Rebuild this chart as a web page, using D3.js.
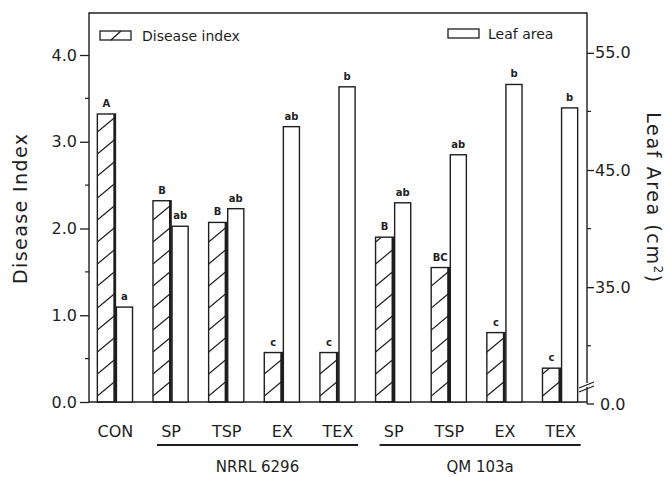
<!DOCTYPE html>
<html>
<head>
<meta charset="utf-8">
<script src="https://d3js.org/d3.v7.min.js"></script>
<style>
  body { margin: 0; background: #fff; }
  text { font-family: "DejaVu Sans", sans-serif; fill: #1e1e1e; }
</style>
</head>
<body>
<script>
// values
var categories = ["CON", "SP", "TSP", "EX", "TEX", "SP", "TSP", "EX", "TEX"];
var diseaseIndex = [3.32, 2.32, 2.07, 0.57, 0.57, 1.90, 1.55, 0.80, 0.39];
var leafArea = [33.3, 40.2, 41.7, 48.7, 52.1, 42.2, 46.3, 52.3, 50.3];
var diseaseLetters = ["A", "B", "B", "c", "c", "B", "BC", "c", "c"];
var leafLetters = ["a", "ab", "ab", "ab", "b", "ab", "ab", "b", "b"];
var groupNames = ["NRRL 6296", "QM 103a"];
var groupFirst = [1, 5];
var groupLast = [4, 8];
var leftTicks = [0, 1, 2, 3, 4];
var leftMinor = [0.5, 1.5, 2.5, 3.5];
var rightTicks = [35, 45, 55];
var rightMinor = [30, 40, 50];

var W = 670, H = 477;
var pL = 89, pR = 587, pT = 13, pB = 402;

var svg = d3.select("body").append("svg")
  .attr("width", W)
  .attr("height", H);

var x = d3.scaleBand()
  .domain(d3.range(categories.length))
  .range([pL, pR])
  .paddingInner(0.35)
  .paddingOuter(0.15);

var xs = d3.scaleBand()
  .domain(["d", "l"])
  .range([0, x.bandwidth()]);

var yL = d3.scaleLinear().domain([0, 4]).range([pB, 55]);
var yR = d3.scaleLinear().domain([25.2, 58.4]).range([pB, pT]);

var ink = "#1e1e1e";

// frame
svg.append("path")
  .attr("d", "M" + pL + "," + pB + "V" + pT + "H" + pR + "V" + (pB + 2))
  .attr("fill", "none").attr("stroke", ink).attr("stroke-width", 1.4);
svg.append("line")
  .attr("x1", pL).attr("x2", pR).attr("y1", pB).attr("y2", pB)
  .attr("stroke", ink).attr("stroke-width", 1.4);

// left axis
var axL = svg.append("g").attr("transform", "translate(" + pL + ",0)")
  .call(d3.axisLeft(yL).tickValues(leftTicks).tickFormat(d3.format(".1f")).tickSize(9).tickPadding(3));
axL.select(".domain").remove();
axL.selectAll("line").attr("stroke", ink).attr("stroke-width", 1.3);
axL.selectAll("text").attr("font-size", 16).attr("font-family", "DejaVu Sans").attr("fill", ink);
svg.append("g").selectAll("line").data(leftMinor).join("line")
  .attr("x1", pL - 4).attr("x2", pL)
  .attr("y1", function(d) { return yL(d); }).attr("y2", function(d) { return yL(d); })
  .attr("stroke", ink).attr("stroke-width", 1.2);

// right axis
var axR = svg.append("g").attr("transform", "translate(" + pR + ",0)")
  .call(d3.axisRight(yR).tickValues(rightTicks).tickFormat(d3.format(".1f")).tickSize(7).tickPadding(1));
axR.select(".domain").remove();
axR.selectAll("line").attr("stroke", ink).attr("stroke-width", 1.3);
axR.selectAll("text").attr("font-size", 16).attr("font-family", "DejaVu Sans").attr("fill", ink);
svg.append("g").selectAll("line").data(rightMinor).join("line")
  .attr("x1", pR).attr("x2", pR + 4)
  .attr("y1", function(d) { return yR(d); }).attr("y2", function(d) { return yR(d); })
  .attr("stroke", ink).attr("stroke-width", 1.2);
// broken-axis zero
svg.append("line")
  .attr("x1", pR).attr("x2", pR + 7).attr("y1", pB + 2).attr("y2", pB + 2)
  .attr("stroke", ink).attr("stroke-width", 1.3);
svg.append("text")
  .attr("x", pR + 13).attr("y", pB + 2).attr("dy", "0.35em")
  .attr("font-size", 16).text("0.0");
var brk = svg.append("g");
brk.append("rect").attr("x", pR - 3).attr("y", 383).attr("width", 6).attr("height", 4).attr("fill", "#fff");
[0, 4].forEach(function(o) {
  brk.append("line")
    .attr("x1", pR - 8).attr("y1", 388 + o).attr("x2", pR + 7).attr("y2", 382 + o)
    .attr("stroke", ink).attr("stroke-width", 1.3);
});

// axis titles
svg.append("text")
  .attr("transform", "translate(27,209) rotate(-90)")
  .attr("text-anchor", "middle")
  .attr("font-size", 19).attr("fill", "#444")
  .attr("textLength", 150).attr("lengthAdjust", "spacing")
  .text("Disease Index");
var rt = svg.append("text")
  .attr("transform", "translate(647,198) rotate(90)")
  .attr("text-anchor", "middle")
  .attr("font-size", 19).attr("fill", "#444")
  .attr("letter-spacing", 1.6);
rt.append("tspan").text("Leaf Area  (cm");
rt.append("tspan").attr("font-size", 12).attr("dy", -7).text("2");
rt.append("tspan").attr("dy", 7).text(")");

// bars
var bars = svg.append("g");
var defs = svg.append("defs");

categories.forEach(function(c, i) {
  var x0 = x(i) + xs("d"), w = xs.bandwidth();
  var yt = yL(diseaseIndex[i]);
  defs.append("clipPath").attr("id", "clip" + i)
    .append("rect").attr("x", x0).attr("y", yt).attr("width", w).attr("height", pB - yt);
  var hg = bars.append("g").attr("clip-path", "url(#clip" + i + ")");
  for (var o = 6; o < pB - yt + 20; o += 22) {
    hg.append("line")
      .attr("x1", x0).attr("y1", pB - o)
      .attr("x2", x0 + w).attr("y2", pB - o - 15)
      .attr("stroke", ink).attr("stroke-width", 1.2);
  }
  bars.append("rect")
    .attr("x", x0).attr("y", yt).attr("width", w).attr("height", pB - yt)
    .attr("fill", "none").attr("stroke", ink).attr("stroke-width", 1.4);
  bars.append("line")
    .attr("x1", x0 + w - 1).attr("x2", x0 + w - 1).attr("y1", yt).attr("y2", pB)
    .attr("stroke", ink).attr("stroke-width", 2.2);

  var lx = x(i) + xs("l") + 1, lw = xs.bandwidth() - 2;
  var lt = yR(leafArea[i]);
  bars.append("rect")
    .attr("x", lx).attr("y", lt).attr("width", lw).attr("height", pB - lt)
    .attr("fill", "#fff").attr("stroke", ink).attr("stroke-width", 1.4);

  bars.append("text")
    .attr("x", x0 + w / 2).attr("y", yt - 7)
    .attr("text-anchor", "middle").attr("font-size", 10).attr("font-weight", "bold")
    .text(diseaseLetters[i]);
  bars.append("text")
    .attr("x", lx + lw / 2).attr("y", lt - 7)
    .attr("text-anchor", "middle").attr("font-size", 10).attr("font-weight", "bold")
    .text(leafLetters[i]);

  svg.append("text")
    .attr("x", x(i) + x.bandwidth() / 2).attr("y", 437)
    .attr("text-anchor", "middle")
    .attr("font-family", "Liberation Sans").attr("font-size", 16)
    .text(c);
});

// treatment groups
groupNames.forEach(function(g, k) {
  var gx0 = x(groupFirst[k]) + 4, gx1 = x(groupLast[k]) + x.bandwidth() + 2;
  svg.append("line")
    .attr("x1", gx0).attr("x2", gx1).attr("y1", 445).attr("y2", 445)
    .attr("stroke", ink).attr("stroke-width", 2);
  svg.append("text")
    .attr("x", (gx0 + gx1) / 2).attr("y", 472)
    .attr("text-anchor", "middle")
    .attr("font-family", "Liberation Sans").attr("font-size", 15)
    .text(g);
});

// legend
var lg = svg.append("g");
lg.append("rect").attr("x", 100).attr("y", 31).attr("width", 31).attr("height", 9)
  .attr("fill", "none").attr("stroke", ink).attr("stroke-width", 1.3);
lg.append("line").attr("x1", 111).attr("y1", 40).attr("x2", 121).attr("y2", 31)
  .attr("stroke", ink).attr("stroke-width", 1.3);
lg.append("text").attr("x", 142).attr("y", 41).attr("font-size", 14).text("Disease index");
lg.append("rect").attr("x", 448).attr("y", 29).attr("width", 31).attr("height", 9)
  .attr("fill", "none").attr("stroke", ink).attr("stroke-width", 1.3);
lg.append("text").attr("x", 488).attr("y", 39).attr("font-size", 14).text("Leaf area");
</script>
</body>
</html>
